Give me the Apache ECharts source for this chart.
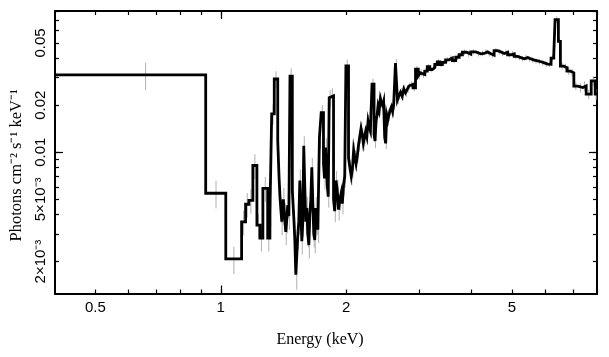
<!DOCTYPE html>
<html>
<head>
<meta charset="utf-8">
<script src="https://cdn.jsdelivr.net/npm/echarts@6/dist/echarts.min.js"></script>
<style>
html,body{margin:0;padding:0;background:#fff;}
#chart{width:609px;height:357px;}
</style>
</head>
<body>
<div id="chart"></div>
<script>
// Bin edges (keV), contiguous
const binEdges = [0.40,0.92,1.028,
  1.122,1.147,1.168,1.194,1.221,1.242,1.262,1.296,1.312,1.325,1.344,1.370,1.380,1.387,1.394,1.401,1.407,1.413,1.422,1.432,
  1.440,1.448,1.457,1.466,1.485,1.499,1.506,1.514,1.530,1.539,1.548,1.556,1.565,1.573,1.582,1.591,1.600,1.609,1.618,1.627,
  1.636,1.645,1.654,1.663,1.672,1.681,1.691,1.700,1.710,1.725,1.742,1.764,1.774,1.784,1.801,1.811,1.821,1.841,1.865,
  1.877,1.890,1.903,1.917,1.931,1.946,1.958,1.971,1.984,1.997,
  2.026,
  2.041,2.057,2.070,2.084,2.098,2.112,2.127,2.142,2.156,2.171,2.185,2.199,2.213,2.227,2.242,2.257,2.271,2.286,
  2.307,2.333,
  2.346,2.359,2.372,2.385,2.400,2.416,2.431,2.447,2.460,2.474,2.488,2.502,2.516,2.530,2.549,2.568,2.585,2.601,
  2.626,2.655,
  2.677,2.700,2.725,2.750,2.776,2.803,2.828,2.854,2.894,2.934,
  2.979,
  3.012,3.045,3.088,3.131,3.175,3.219,3.264,3.310,3.356,3.402,3.465,3.529,3.596,3.664,3.733,3.802,3.890,3.981,4.095,4.209,
  4.288,4.368,4.449,4.530,4.616,4.702,4.791,4.880,4.971,5.062,5.158,5.254,5.353,5.453,5.555,5.657,5.764,5.871,5.982,6.093,
  6.206,6.300,6.345,6.463,6.535,6.659,6.782,6.908,7.039,7.197,7.399,7.535,7.748,7.921,8.0];
// Flux per bin (photons cm^-2 s^-1 keV^-1)
const flux = [0.0312,0.00547,0.00208,
  0.00359,0.00465,0.00493,0.00823,0.00342,0.00283,0.00588,0.00283,0.00408,0.0176,0.0294,0.0119,0.0069,
  0.0052,0.0043,0.0036,0.0042,0.0050,0.0040,0.0031,0.0037,0.0046,0.0039,
  0.0307,0.0057,
  0.0036,0.0027,
  0.00165,
  0.0029,0.0036,0.0066,0.0045,0.0027,0.0035,0.0110,0.0060,0.0036,0.0044,0.0030,0.00255,0.0040,0.0050,0.0080,0.0048,0.0030,0.00275,0.0044,0.0036,
  0.0032,0.0124,0.0179,
  0.0085,0.0068,
  0.0107,
  0.0062,0.0052,
  0.0223,0.0229,
  0.0050,0.0042,0.0066,0.0058,0.0043,0.0050,0.0055,0.0047,0.0062,0.0070,
  0.0356,
  0.0092,0.0080,0.0070,0.0078,0.0103,0.0092,0.0084,0.0095,0.0112,0.0126,0.0142,0.0130,0.0114,0.0125,0.0136,0.0126,0.0158,0.0145,
  0.0137,0.0273,
  0.0130,0.0118,0.0160,0.0172,0.0198,0.0185,0.0220,0.0206,0.0198,0.0210,0.0125,0.0114,0.0172,0.0160,0.0172,0.0186,0.0195,0.0182,
  0.0204,0.0372,
  0.0216,0.0230,0.0242,0.0228,0.0254,0.0240,0.0252,0.0265,0.0272,0.0258,
  0.0340,
  0.0308,0.0322,0.0314,0.0330,0.0352,0.0338,0.0348,0.0364,0.0378,0.0364,0.0376,0.0390,0.0400,0.0386,0.0405,0.0420,0.0436,0.0424,0.0438,0.0426,
  0.0428,0.0438,0.0426,0.0418,0.0446,0.0438,0.0428,0.0436,0.0420,0.0426,0.0410,0.0403,0.0396,0.0403,0.0395,0.0388,0.0384,0.0379,0.0373,0.0366,
  0.0365,0.0400,0.0423,0.0705,0.0511,0.0355,0.0347,0.0330,0.0322,0.0265,0.0259,0.0265,0.0235,0.0286,0.0235];
// Relative 1-sigma error per bin
const relErr = [0.2,0.2,0.2,
  0.18,0.18,0.18,0.18,0.18,0.18,0.18,0.18,0.18,0.15,0.12,0.18,0.18,
  0.18,0.18,0.18,0.18,0.18,0.18,0.18,0.18,0.18,0.18,
  0.12,0.18,
  0.18,0.18,
  0.2,
  0.18,0.18,0.18,0.18,0.18,0.18,0.15,0.15,0.18,0.18,0.18,0.18,0.18,0.18,0.15,0.15,0.18,0.18,0.18,0.18,
  0.18,0.15,0.12,
  0.15,0.15,
  0.15,
  0.15,0.15,
  0.12,0.12,
  0.15,0.15,0.15,0.15,0.15,0.15,0.15,0.15,0.15,0.15,
  0.1,
  0.12,0.12,0.12,0.12,0.12,0.12,0.1,0.1,0.1,0.1,0.1,0.1,0.1,0.1,0.1,0.1,0.1,0.1,
  0.1,0.08,
  0.1,0.1,0.1,0.1,0.08,0.08,0.08,0.08,0.08,0.08,0.08,0.08,0.08,0.08,0.08,0.08,0.08,0.08,
  0.08,0.06,
  0.06,0.06,0.06,0.06,0.06,0.06,0.05,0.05,0.05,0.05,
  0.05,
  0.05,0.05,0.05,0.05,0.04,0.04,0.04,0.04,0.04,0.04,0.04,0.04,0.04,0.04,0.04,0.04,0.04,0.04,0.04,0.04,
  0.04,0.04,0.04,0.04,0.04,0.04,0.04,0.04,0.04,0.04,0.04,0.04,0.04,0.04,0.04,0.04,0.04,0.04,0.04,0.04,
  0.04,0.05,0.05,0.05,0.05,0.05,0.06,0.06,0.06,0.06,0.07,0.07,0.07,0.07,0.08];

const xTickVals = [0.5,0.6,0.7,0.8,0.9,1,2,3,4,5,6,7,8];
const xLabelVals = [0.5,1,2,5];
const xLabelText = ['0.5','1','2','5'];
const yTickVals = [0.002,0.003,0.004,0.005,0.006,0.007,0.008,0.009,0.01,0.02,0.03,0.04,0.05,0.06,0.07,0.08];
const yLabelVals = [0.002,0.005,0.01,0.02,0.05];
const yLabelText = ['2×10⁻³','5×10⁻³','0.01','0.02','0.05'];
const xMajorTick = [1];
const yMajorTick = [0.01];

function lookup(vals, texts){
  return function(v){
    for (let i=0;i<vals.length;i++){
      if (Math.abs(Math.log10(v)-Math.log10(vals[i]))<1e-4) return texts[i];
    }
    return '';
  };
}

// Step line points
const stepPts = [];
for (let i=0;i<flux.length;i++) stepPts.push([binEdges[i], flux[i]]);
stepPts.push([binEdges[flux.length], flux[flux.length-1]]);
// Error bar data at bin centres
const errPts = flux.map((f,i)=>[(binEdges[i]+binEdges[i+1])/2, f, relErr[i]]);

const X_MIN=0.4, X_MAX=8, Y_MIN=0.00125, Y_MAX=0.08;
const lineSt = {color:'#000', width:2};
const tickSt = {color:'#000', width:1.2};

function xAx(pos, ticks, len, labels, extra){
  return Object.assign({
    type:'log', logBase:10, min:X_MIN, max:X_MAX, position:pos,
    axisLine:{show:true, lineStyle:lineSt},
    axisTick:{show:true, inside:true, length:len, customValues:ticks, lineStyle:tickSt},
    axisLabel:labels ? {show:true, customValues:xLabelVals, formatter:lookup(xLabelVals,xLabelText),
      color:'#000', fontSize:15, fontFamily:'Liberation Sans', margin:7} : {show:false},
    splitLine:{show:false}, minorTick:{show:false}
  }, extra||{});
}
function yAx(pos, ticks, len, labels, extra){
  return Object.assign({
    type:'log', logBase:10, min:Y_MIN, max:Y_MAX, position:pos,
    axisLine:{show:true, lineStyle:lineSt},
    axisTick:{show:true, inside:true, length:len, customValues:ticks, lineStyle:tickSt},
    axisLabel:labels ? {show:true, customValues:yLabelVals, formatter:lookup(yLabelVals,yLabelText),
      color:'#000', fontSize:15, fontFamily:'Liberation Sans', rotate:90, margin:7} : {show:false},
    splitLine:{show:false}, minorTick:{show:false}
  }, extra||{});
}

const chart = echarts.init(document.getElementById('chart'), null, {renderer:'canvas'});
chart.setOption({
  animation:false,
  backgroundColor:'#fff',
  grid:{left:55, right:12, top:11, bottom:63.5, containLabel:false, outerBoundsMode:'none'},
  xAxis:[
    xAx('bottom', xTickVals, 4, true, {name:'Energy (keV)', nameLocation:'middle', nameGap:38,
      nameTextStyle:{fontFamily:'Liberation Serif', fontSize:16, color:'#000', padding:[0,12,0,0]}}),
    xAx('top', xTickVals, 4, false),
    xAx('bottom', xMajorTick, 8, false),
    xAx('top', xMajorTick, 8, false)
  ],
  yAxis:[
    yAx('left', yTickVals, 4, true, {name:'Photons cm⁻² s⁻¹ keV⁻¹', nameLocation:'middle', nameGap:30,
      nameTextStyle:{fontFamily:'Liberation Serif', fontSize:16.5, color:'#000', padding:[0,26,0,0]}}),
    yAx('right', yTickVals, 4, false),
    yAx('left', yMajorTick, 8, false),
    yAx('right', yMajorTick, 8, false)
  ],
  series:[
    {
      type:'custom', xAxisIndex:0, yAxisIndex:0, clip:true, z:1,
      data:errPts,
      renderItem:function(params, api){
        const x=api.value(0), y=api.value(1), e=api.value(2);
        const p1=api.coord([x, y*(1+e)]), p2=api.coord([x, y*(1-e)]);
        return {type:'line', shape:{x1:p1[0], y1:p1[1], x2:p2[0], y2:p2[1]},
          style:{stroke:'#b0b0b0', lineWidth:1}};
      }
    },
    {
      type:'line', xAxisIndex:0, yAxisIndex:0, step:'end', z:2,
      data:stepPts, showSymbol:false, symbol:'none',
      lineStyle:{color:'#000', width:2.8, join:'miter'}
    }
  ]
});
</script>
</body>
</html>
